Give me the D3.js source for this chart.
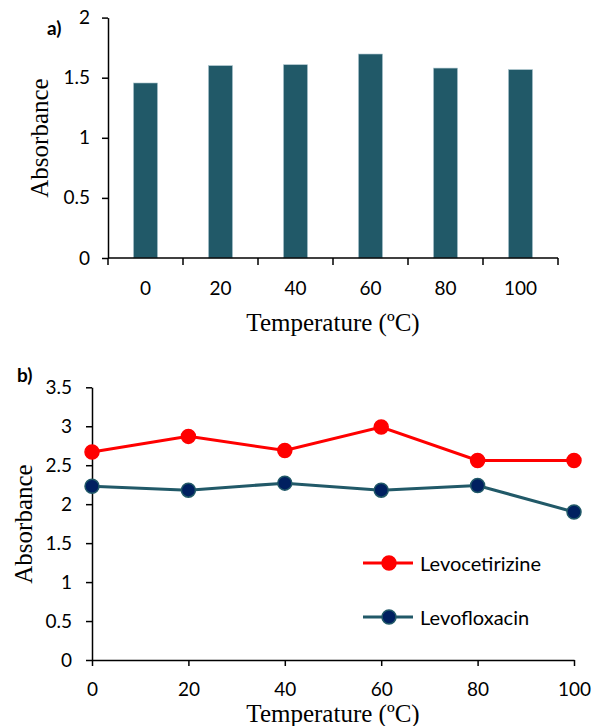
<!DOCTYPE html>
<html>
<head>
<meta charset="utf-8">
<script src="https://cdn.jsdelivr.net/npm/d3@7"></script>
<style>
body { margin: 0; background: #fff; }
text { fill: #000; }
</style>
</head>
<body>
<svg id="chart" width="594" height="726"></svg>
<script>
// 数据
var temps = [0, 20, 40, 60, 80, 100];
var barValues = [1.456, 1.60, 1.608, 1.697, 1.58, 1.567];
var levocetirizine = [2.67, 2.87, 2.69, 2.99, 2.56, 2.56];
var levofloxacin = [2.23, 2.18, 2.27, 2.18, 2.24, 1.90];
var yTicksA = [0, 0.5, 1, 1.5, 2];
var yTicksB = [0, 0.5, 1, 1.5, 2, 2.5, 3, 3.5];

var tickFont = "Lato, 'Open Sans', sans-serif";
var titleFont = "'Liberation Serif', 'DejaVu Serif', serif";
var tickSize = "19px";
var svg = d3.select("#chart");

// ---- a) 柱状图 ----
var xa = d3.scaleBand().domain(temps).range([108, 558]).paddingInner(0.68).paddingOuter(0.34);
var ya = d3.scaleLinear().domain([0, 2]).range([258, 17.6]);

svg.selectAll("rect.bar")
	.data(barValues)
	.enter()
	.append("rect")
	.attr("class", "bar")
	.attr("x", function (d, i) { return xa(temps[i]); })
	.attr("y", function (d) { return ya(d); })
	.attr("width", xa.bandwidth())
	.attr("height", function (d) { return ya(0) - ya(d); })
	.attr("fill", "#215968")
	.attr("stroke", "#a9c4cc")
	.attr("stroke-width", 0.6);

var gya = svg.append("g").attr("transform", "translate(108,0)")
	.call(d3.axisLeft(ya).tickValues(yTicksA).tickSize(6).tickSizeOuter(0).tickPadding(12).tickFormat(d3.format("")));
// x 轴：刻度在类别边界
var stepA = xa.step();
var gxa = svg.append("g").attr("transform", "translate(0,258)");
gxa.append("line").attr("x1", 108).attr("x2", 558).attr("stroke", "#000").attr("stroke-width", 1.5);
gxa.selectAll("line.tk").data(d3.range(7)).enter().append("line")
	.attr("class", "tk")
	.attr("x1", function (d) { return 108 + d * stepA; })
	.attr("x2", function (d) { return 108 + d * stepA; })
	.attr("y1", 0).attr("y2", 7)
	.attr("stroke", "#000").attr("stroke-width", 1.5);
gxa.selectAll("text").data(temps).enter().append("text")
	.attr("x", function (d) { return xa(d) + xa.bandwidth() / 2; })
	.attr("y", 37)
	.attr("text-anchor", "middle")
	.style("font-family", tickFont).style("font-size", tickSize)
	.text(function (d) { return d; });

svg.append("text").attr("x", 333).attr("y", 331).attr("text-anchor", "middle")
	.style("font-family", titleFont).style("font-size", "25px").text("Temperature (ºC)");
svg.append("text").attr("transform", "translate(48,138) rotate(-90)").attr("text-anchor", "middle")
	.style("font-family", titleFont).style("font-size", "25px").text("Absorbance");
svg.append("text").attr("x", 47).attr("y", 35)
	.style("font-family", tickFont).style("font-size", "19px").style("font-weight", "bold").text("a)");

// ---- b) 折线图 ----
var xb = d3.scaleLinear().domain([0, 100]).range([92, 574]);
var yb = d3.scaleLinear().domain([0, 3.5]).range([660, 387.3]);

var gyb = svg.append("g").attr("transform", "translate(92,0)")
	.call(d3.axisLeft(yb).tickValues(yTicksB).tickSize(6).tickSizeOuter(0).tickPadding(14).tickFormat(d3.format("")));
var gxb = svg.append("g").attr("transform", "translate(0,660)")
	.call(d3.axisBottom(xb).tickValues(temps).tickSize(6).tickSizeOuter(0).tickPadding(17));

[gya, gyb, gxb].forEach(function (g) {
	g.select(".domain").attr("stroke", "#000").attr("stroke-width", 1.5);
	g.selectAll(".tick line").attr("stroke", "#000").attr("stroke-width", 1.5);
	g.selectAll(".tick text").style("font-family", tickFont).style("font-size", tickSize).attr("fill", "#000");
});

var series = [
	{ name: "Levocetirizine", values: levocetirizine, line: "#ff0000", fill: "#ff0000", stroke: "#ff0000" },
	{ name: "Levofloxacin", values: levofloxacin, line: "#215968", fill: "#002060", stroke: "#215968" }
];
var lineGen = d3.line()
	.x(function (d, i) { return xb(temps[i]); })
	.y(function (d) { return yb(d); });

series.forEach(function (s) {
	svg.append("path").datum(s.values)
		.attr("d", lineGen)
		.attr("fill", "none")
		.attr("stroke", s.line)
		.attr("stroke-width", 3);
	svg.selectAll(null).data(s.values).enter().append("circle")
		.attr("cx", function (d, i) { return xb(temps[i]); })
		.attr("cy", function (d) { return yb(d); })
		.attr("r", 7)
		.attr("fill", s.fill)
		.attr("stroke", s.stroke)
		.attr("stroke-width", 1.5);
});

// 图例
series.forEach(function (s, i) {
	var ly = 563 + i * 54;
	svg.append("line").attr("x1", 363).attr("x2", 413).attr("y1", ly).attr("y2", ly)
		.attr("stroke", s.line).attr("stroke-width", 3);
	svg.append("circle").attr("cx", 389).attr("cy", ly).attr("r", 7)
		.attr("fill", s.fill).attr("stroke", s.stroke).attr("stroke-width", 1.5);
	svg.append("text").attr("x", 420).attr("y", ly + 7.5)
		.style("font-family", tickFont).style("font-size", "20px").text(s.name);
});

svg.append("text").attr("x", 333).attr("y", 722).attr("text-anchor", "middle")
	.style("font-family", titleFont).style("font-size", "25px").text("Temperature (ºC)");
svg.append("text").attr("transform", "translate(32,524) rotate(-90)").attr("text-anchor", "middle")
	.style("font-family", titleFont).style("font-size", "25px").text("Absorbance");
svg.append("text").attr("x", 17).attr("y", 382)
	.style("font-family", tickFont).style("font-size", "19px").style("font-weight", "bold").text("b)");
</script>
</body>
</html>
